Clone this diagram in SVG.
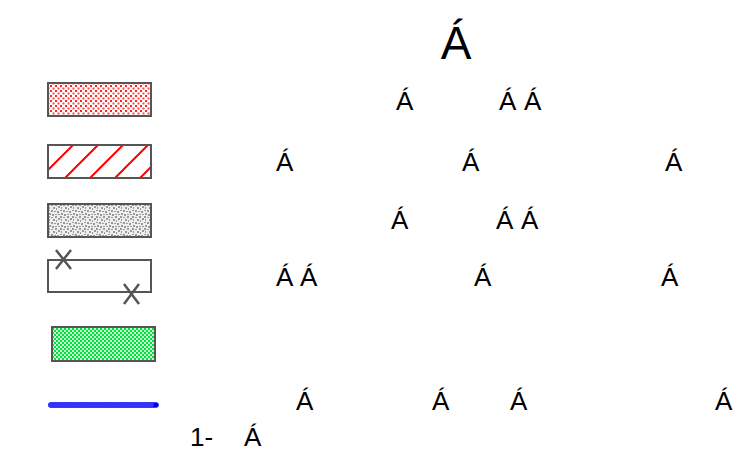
<svg xmlns="http://www.w3.org/2000/svg" width="743" height="461" viewBox="0 0 743 461">
<style>
.t{font-family:"Liberation Sans",Arial,sans-serif;font-size:26px;fill:#000}
.box{stroke:#555;stroke-width:2}
.x{stroke:#555;stroke-width:2.5;fill:none}
</style>
<defs>
<pattern id="dots" width="5" height="5" patternUnits="userSpaceOnUse">
<rect width="5" height="5" fill="#fff"/>
<rect x="0" y="0" width="2" height="2" fill="#f22"/>
<rect x="2.5" y="2.5" width="2" height="2" fill="#f44"/>
</pattern>
<pattern id="hatch" width="25" height="25" patternUnits="userSpaceOnUse" x="48" y="145">
<rect width="25" height="25" fill="#fff"/>
<path d="M-5,30 L30,-5 M-30,30 L5,-5 M20,30 L55,-5" stroke="#f00" stroke-width="2"/>
</pattern>
<pattern id="noise" width="12" height="12" patternUnits="userSpaceOnUse">
<rect width="12" height="12" fill="#eee"/>
<g fill="#999">
<rect x="0" y="0" width="2" height="2"/><rect x="3" y="1" width="2" height="1"/><rect x="7" y="0" width="2" height="2"/>
<rect x="10" y="2" width="2" height="2"/><rect x="1" y="3" width="1" height="2"/><rect x="5" y="3" width="2" height="2"/>
<rect x="8" y="4" width="1" height="2"/><rect x="0" y="6" width="2" height="1"/><rect x="3" y="6" width="2" height="2"/>
<rect x="6" y="7" width="2" height="1"/><rect x="9" y="7" width="2" height="2"/><rect x="1" y="9" width="2" height="2"/>
<rect x="4" y="10" width="2" height="2"/><rect x="7" y="10" width="2" height="1"/><rect x="10" y="10" width="2" height="1"/>
</g>
</pattern>
<pattern id="check" width="4" height="4" patternUnits="userSpaceOnUse">
<rect width="4" height="4" fill="#c8f8d0"/>
<rect x="0" y="0" width="2" height="2" fill="#00e040"/>
<rect x="2" y="2" width="2" height="2" fill="#00e040"/>
</pattern>
</defs>
<g id="legend-dots"><rect class="box" x="48" y="83" width="103" height="33" fill="url(#dots)"/></g>
<g id="legend-hatch"><rect class="box" x="48" y="145" width="103" height="33" fill="url(#hatch)"/></g>
<g id="legend-noise"><rect class="box" x="48" y="204" width="103" height="33" fill="url(#noise)"/></g>
<g id="legend-cross">
<rect class="box" x="48" y="260" width="103" height="32" fill="#fff"/>
<path class="x" d="M56,250 L71,269 M71,250 L56,269"/>
<path class="x" d="M124,284 L139,304 M139,284 L124,304"/>
</g>
<g id="legend-green"><rect class="box" x="52" y="327" width="103" height="34" fill="url(#check)"/></g>
<g id="legend-line"><line x1="51" y1="405" x2="156" y2="405" stroke="#00f" stroke-width="5.5" stroke-linecap="round"/>
<line x1="51" y1="405" x2="156" y2="405" stroke="#33f" stroke-width="5.5" stroke-linecap="round" stroke-dasharray="0 5"/></g>
<text x="456" y="59" text-anchor="middle" style="font-family:'Liberation Sans',Arial,sans-serif;font-size:46px">Á</text>
<g id="labels">
<text class="t" x="396" y="110">Á</text>
<text class="t" x="499" y="110">Á</text>
<text class="t" x="524" y="110">Á</text>
<text class="t" x="276" y="171">Á</text>
<text class="t" x="462" y="171">Á</text>
<text class="t" x="665" y="171">Á</text>
<text class="t" x="391" y="229">Á</text>
<text class="t" x="496" y="229">Á</text>
<text class="t" x="521" y="229">Á</text>
<text class="t" x="276" y="286">Á</text>
<text class="t" x="300" y="286">Á</text>
<text class="t" x="474" y="286">Á</text>
<text class="t" x="661" y="286">Á</text>
<text class="t" x="296" y="410">Á</text>
<text class="t" x="432" y="410">Á</text>
<text class="t" x="510" y="410">Á</text>
<text class="t" x="715" y="410">Á</text>
<text class="t" x="190" y="446">1-</text>
<text class="t" x="244" y="446">Á</text>
</g>
</svg>
